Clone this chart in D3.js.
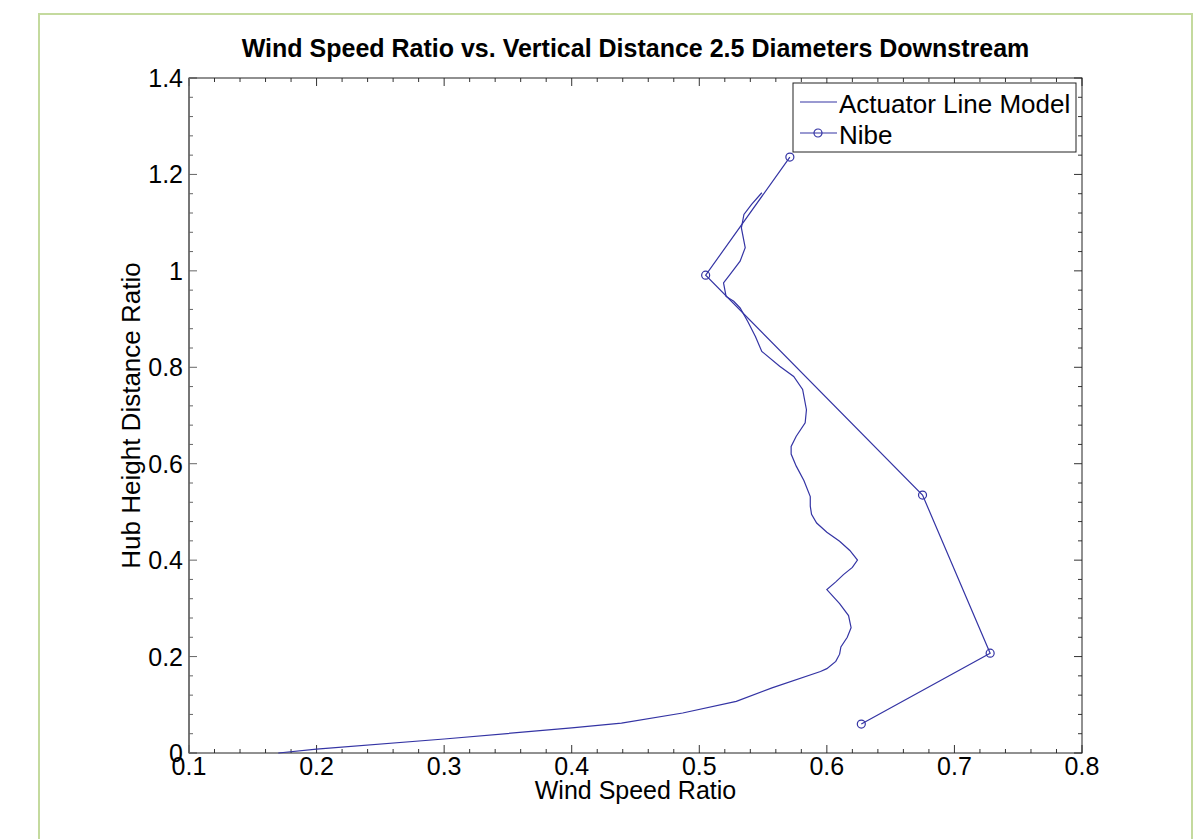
<!DOCTYPE html>
<html>
<head>
<meta charset="utf-8">
<script src="https://cdn.jsdelivr.net/npm/d3@7"></script>
<style>
  body { margin: 0; background: #fff; }
  text { font-family: Arial, 'Liberation Sans', sans-serif; fill: #000; }
</style>
</head>
<body>
<script>
// Actuator line model curve (wind speed ratio, hub height distance ratio)
const alX = [0.170, 0.200, 0.300, 0.400, 0.439, 0.487, 0.529, 0.557, 0.595, 0.600,
  0.607, 0.610, 0.611, 0.616, 0.619, 0.617, 0.610, 0.600, 0.607, 0.613,
  0.620, 0.624, 0.618, 0.610, 0.600, 0.592, 0.588, 0.587, 0.587, 0.582,
  0.576, 0.572, 0.572, 0.576, 0.583, 0.584, 0.581, 0.574, 0.563, 0.549,
  0.544, 0.538, 0.532, 0.527, 0.521, 0.519, 0.524, 0.532, 0.536, 0.533,
  0.535, 0.541, 0.549];
const alY = [0.000, 0.008, 0.029, 0.052, 0.062, 0.083, 0.107, 0.135, 0.169, 0.175,
  0.190, 0.205, 0.220, 0.240, 0.260, 0.285, 0.310, 0.339, 0.355, 0.370,
  0.385, 0.400, 0.420, 0.439, 0.458, 0.477, 0.495, 0.512, 0.532, 0.565,
  0.595, 0.620, 0.636, 0.657, 0.685, 0.712, 0.754, 0.781, 0.802, 0.833,
  0.864, 0.895, 0.923, 0.937, 0.947, 0.975, 0.992, 1.020, 1.048, 1.089,
  1.117, 1.138, 1.162];

// Nibe measurements
const nibeX = [0.627, 0.728, 0.675, 0.505, 0.571];
const nibeY = [0.060, 0.207, 0.535, 0.991, 1.236];

const xTicks = [0.1, 0.2, 0.3, 0.4, 0.5, 0.6, 0.7, 0.8];
const yTicks = [0, 0.2, 0.4, 0.6, 0.8, 1, 1.2, 1.4];
const seriesNames = ['Actuator Line Model', 'Nibe'];

const width = 1196;
const height = 839;
const margin = { left: 189, top: 78, right: 1082, bottom: 753 };
const lineColor = '#3434a4';

const svg = d3
  .select('body')
  .append('svg')
  .attr('width', width)
  .attr('height', height);

// green frame around the figure
svg
  .append('rect')
  .attr('x', 39)
  .attr('y', 14)
  .attr('width', 1153)
  .attr('height', 840)
  .attr('fill', 'none')
  .attr('stroke', '#c4da9e')
  .attr('stroke-width', 2);

const x = d3.scaleLinear().domain([0.1, 0.8]).range([margin.left, margin.right]);
const y = d3.scaleLinear().domain([0, 1.4]).range([margin.bottom, margin.top]);

// minor ticks every 0.02 / 0.04, major ones longer
const xMinor = d3.range(0.1, 0.8001, 0.02);
const yMinor = d3.range(0, 1.4001, 0.04);
const isMajor = (ticks, d) => ticks.some((t) => Math.abs(t - d) < 1e-6);

const axes = svg.append('g');
const tickLine = (sel) => sel.attr('stroke', '#333').attr('stroke-width', 1);

const xm = axes.append('g').selectAll('g').data(xMinor).enter();
xm.append('line')
  .attr('x1', (d) => x(d)).attr('x2', (d) => x(d))
  .attr('y1', margin.bottom).attr('y2', (d) => margin.bottom - (isMajor(xTicks, d) ? 8 : 4))
  .call(tickLine);
xm.append('line')
  .attr('x1', (d) => x(d)).attr('x2', (d) => x(d))
  .attr('y1', margin.top).attr('y2', (d) => margin.top + (isMajor(xTicks, d) ? 8 : 4))
  .call(tickLine);

const ym = axes.append('g').selectAll('g').data(yMinor).enter();
ym.append('line')
  .attr('y1', (d) => y(d)).attr('y2', (d) => y(d))
  .attr('x1', margin.left).attr('x2', (d) => margin.left + (isMajor(yTicks, d) ? 8 : 4))
  .call(tickLine)
  .attr('stroke', '#666');
ym.append('line')
  .attr('y1', (d) => y(d)).attr('y2', (d) => y(d))
  .attr('x1', margin.right).attr('x2', (d) => margin.right - (isMajor(yTicks, d) ? 8 : 4))
  .call(tickLine);

// box
axes
  .append('rect')
  .attr('x', margin.left)
  .attr('y', margin.top)
  .attr('width', margin.right - margin.left)
  .attr('height', margin.bottom - margin.top)
  .attr('fill', 'none')
  .attr('stroke', '#222')
  .attr('stroke-width', 1);

axes
  .append('line')
  .attr('x1', margin.left)
  .attr('x2', margin.left)
  .attr('y1', margin.top)
  .attr('y2', margin.bottom)
  .attr('stroke', '#6e6e6e')
  .attr('stroke-width', 1.5);

// tick labels
axes
  .append('g')
  .selectAll('text')
  .data(xTicks)
  .enter()
  .append('text')
  .attr('x', (d) => x(d))
  .attr('y', margin.bottom + 22)
  .attr('text-anchor', 'middle')
  .attr('font-size', 25)
  .text((d) => d);

axes
  .append('g')
  .selectAll('text')
  .data(yTicks)
  .enter()
  .append('text')
  .attr('x', margin.left - 6)
  .attr('y', (d) => y(d) + 9)
  .attr('text-anchor', 'end')
  .attr('font-size', 25)
  .text((d) => d);

// title and axis labels
svg
  .append('text')
  .attr('x', (margin.left + margin.right) / 2)
  .attr('y', 57)
  .attr('text-anchor', 'middle')
  .attr('font-size', 25)
  .attr('font-weight', 'bold')
  .text('Wind Speed Ratio vs. Vertical Distance 2.5 Diameters Downstream');

svg
  .append('text')
  .attr('x', (margin.left + margin.right) / 2)
  .attr('y', 799)
  .attr('text-anchor', 'middle')
  .attr('font-size', 25)
  .text('Wind Speed Ratio');

svg
  .append('text')
  .attr('transform', `translate(140, ${(margin.top + margin.bottom) / 2}) rotate(-90)`)
  .attr('text-anchor', 'middle')
  .attr('font-size', 26)
  .text('Hub Height Distance Ratio');

// series
const line = d3
  .line()
  .x((d) => x(d[0]))
  .y((d) => y(d[1]));

svg
  .append('path')
  .datum(d3.zip(alX, alY))
  .attr('d', line)
  .attr('fill', 'none')
  .attr('stroke', lineColor)
  .attr('stroke-width', 1.2);

const nibe = d3.zip(nibeX, nibeY);
svg
  .append('path')
  .datum(nibe)
  .attr('d', line)
  .attr('fill', 'none')
  .attr('stroke', lineColor)
  .attr('stroke-width', 1.2);

svg
  .append('g')
  .selectAll('circle')
  .data(nibe)
  .enter()
  .append('circle')
  .attr('cx', (d) => x(d[0]))
  .attr('cy', (d) => y(d[1]))
  .attr('r', 4)
  .attr('fill', 'none')
  .attr('stroke', lineColor)
  .attr('stroke-width', 1.2);

// legend
const legend = svg.append('g').attr('transform', 'translate(793, 83)');
legend
  .append('rect')
  .attr('width', 283)
  .attr('height', 69)
  .attr('fill', '#fff')
  .attr('stroke', '#222');

const rows = legend
  .selectAll('g')
  .data(seriesNames)
  .enter()
  .append('g')
  .attr('transform', (d, i) => `translate(0, ${19 + i * 31})`);

rows
  .append('line')
  .attr('x1', 7)
  .attr('x2', 44)
  .attr('stroke', lineColor)
  .attr('stroke-width', 1.2);

rows
  .filter((d, i) => i === 1)
  .append('circle')
  .attr('cx', 25)
  .attr('r', 4)
  .attr('fill', 'none')
  .attr('stroke', lineColor)
  .attr('stroke-width', 1.2);

rows
  .append('text')
  .attr('x', 46)
  .attr('y', 11)
  .attr('font-size', 26)
  .text((d) => d);
</script>
</body>
</html>
